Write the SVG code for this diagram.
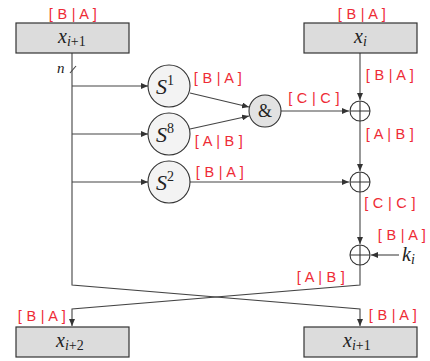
<svg xmlns="http://www.w3.org/2000/svg" width="430" height="361" viewBox="0 0 430 361">
<defs>
<marker id="arr" markerWidth="8" markerHeight="6" refX="7" refY="3" orient="auto" markerUnits="userSpaceOnUse">
<path d="M0,0 L7,3 L0,6 Z" fill="#333"/>
</marker>
<style>
.box{fill:#dcdcdc;stroke:#333;stroke-width:1.2}
.sc{fill:#f3f3f3;stroke:#333;stroke-width:1.1}
.amp{fill:#e2e2e2;stroke:#333;stroke-width:1.1}
.xor{fill:none;stroke:#333;stroke-width:1.1}
.ln{fill:none;stroke:#444;stroke-width:1.1}
.lab{font-family:"Liberation Sans",Arial,sans-serif;font-size:14.5px;fill:#ee2b36;letter-spacing:0.3px}
.mx{font-family:"Liberation Serif","Times New Roman",serif;font-style:italic;fill:#222}
.up{font-family:"Liberation Serif","Times New Roman",serif;font-style:normal;fill:#222}
</style>
</defs>
<rect width="430" height="361" fill="#ffffff"/>

<g id="connectors">
<path class="ln" d="M72,53 V285 L360,309 V326" marker-end="url(#arr)"/>
<path class="ln" d="M360,265 V285 L72,309 V326" marker-end="url(#arr)"/>
<path class="ln" d="M360,53 V100" marker-end="url(#arr)"/>
<path class="ln" d="M360,121 V171" marker-end="url(#arr)"/>
<path class="ln" d="M360,192 V244" marker-end="url(#arr)"/>
<path class="ln" d="M72,86 H148" marker-end="url(#arr)"/>
<path class="ln" d="M72,134 H148" marker-end="url(#arr)"/>
<path class="ln" d="M72,182 H148" marker-end="url(#arr)"/>
<path class="ln" d="M190,93 L249,107" marker-end="url(#arr)"/>
<path class="ln" d="M190,129 L249,116" marker-end="url(#arr)"/>
<path class="ln" d="M281,111 H349" marker-end="url(#arr)"/>
<path class="ln" d="M190,182 H349" marker-end="url(#arr)"/>
<path class="ln" d="M399,255 H371" marker-end="url(#arr)"/>
<path class="ln" d="M70,73 L76,66"/>
</g>

<g id="box-xi1-top">
<rect class="box" x="16" y="23" width="113" height="30"/>
<text class="mx" x="58" y="43" font-size="20">x<tspan font-size="14" dy="3">i</tspan><tspan class="up" font-size="14">+1</tspan></text>
<text class="lab" x="73" y="19" text-anchor="middle">[ B | A ]</text>
</g>
<g id="box-xi-top">
<rect class="box" x="304" y="23" width="113" height="30"/>
<text class="mx" x="354" y="43" font-size="20">x<tspan font-size="14" dy="3">i</tspan></text>
<text class="lab" x="362" y="19" text-anchor="middle">[ B | A ]</text>
</g>
<g id="box-xi2-bottom">
<rect class="box" x="16" y="327" width="113" height="30"/>
<text class="mx" x="56" y="347" font-size="20">x<tspan font-size="14" dy="3">i</tspan><tspan class="up" font-size="14">+2</tspan></text>
<text class="lab" x="42" y="321" text-anchor="middle">[ B | A ]</text>
</g>
<g id="box-xi1-bottom">
<rect class="box" x="304" y="327" width="113" height="30"/>
<text class="mx" x="343" y="347" font-size="20">x<tspan font-size="14" dy="3">i</tspan><tspan class="up" font-size="14">+1</tspan></text>
<text class="lab" x="393" y="320" text-anchor="middle">[ B | A ]</text>
</g>

<g id="n-label">
<text class="mx" x="57" y="73" font-size="15">n</text>
</g>

<g id="s1">
<circle class="sc" cx="169" cy="86" r="21"/>
<text class="mx" x="156" y="94" font-size="22">S<tspan class="up" font-size="14" dy="-9">1</tspan></text>
<text class="lab" x="218" y="83" text-anchor="middle">[ B | A ]</text>
</g>
<g id="s8">
<circle class="sc" cx="169" cy="134" r="21"/>
<text class="mx" x="156" y="142" font-size="22">S<tspan class="up" font-size="14" dy="-9">8</tspan></text>
<text class="lab" x="219" y="146" text-anchor="middle">[ A | B ]</text>
</g>
<g id="s2">
<circle class="sc" cx="169" cy="182" r="21"/>
<text class="mx" x="156" y="190" font-size="22">S<tspan class="up" font-size="14" dy="-9">2</tspan></text>
<text class="lab" x="220" y="177" text-anchor="middle">[ B | A ]</text>
</g>
<g id="and">
<circle class="amp" cx="265" cy="111" r="16"/>
<text class="up" x="265" y="117" font-size="18" text-anchor="middle">&amp;</text>
<text class="lab" x="314" y="103" text-anchor="middle">[ C | C ]</text>
</g>

<g id="xor1">
<circle class="xor" cx="360" cy="111" r="10"/>
<path class="xor" d="M350,111 H370 M360,101 V121"/>
<text class="lab" x="390" y="80" text-anchor="middle">[ B | A ]</text>
<text class="lab" x="390" y="139" text-anchor="middle">[ A | B ]</text>
</g>
<g id="xor2">
<circle class="xor" cx="360" cy="182" r="10"/>
<path class="xor" d="M350,182 H370 M360,172 V192"/>
<text class="lab" x="390" y="208" text-anchor="middle">[ C | C ]</text>
</g>
<g id="xor3">
<circle class="xor" cx="360" cy="255" r="10"/>
<path class="xor" d="M350,255 H370 M360,245 V265"/>
<text class="lab" x="402" y="240" text-anchor="middle">[ B | A ]</text>
<text class="lab" x="321" y="282" text-anchor="middle">[ A | B ]</text>
<text class="mx" x="402" y="261" font-size="20">k<tspan font-size="14" dy="3">i</tspan></text>
</g>
</svg>
